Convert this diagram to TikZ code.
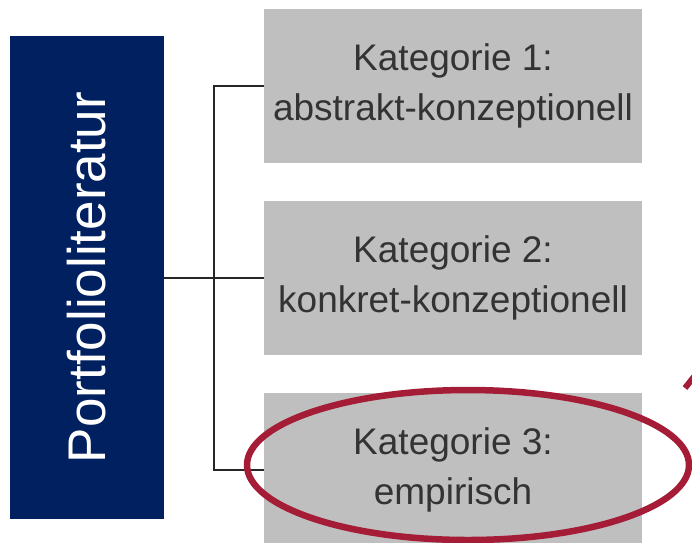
\documentclass[tikz,border=0pt]{standalone}
\usepackage{fontspec}
\setmainfont{Liberation Sans}
\definecolor{uniblue}{HTML}{002060}
\definecolor{catgrey}{HTML}{BFBFBF}
\definecolor{markred}{HTML}{A51C36}
\definecolor{txtgrey}{HTML}{333333}
\begin{document}
\begin{tikzpicture}[x=1pt,y=-1pt,
    catbox/.style={fill=catgrey,text=txtgrey,minimum width=378pt,minimum height=154pt,
        inner sep=0pt,align=center,font=\fontsize{37}{50}\selectfont},
    link/.style={draw=black!85,line width=2pt}]
    \clip (0,0) rectangle (692,542);
    \node [fill=uniblue,text=white,rotate=90,minimum width=483pt,minimum height=154pt,
        inner sep=0pt,font=\fontsize{53}{60}\selectfont] (portfolio) at (87,277.5) {Portfolioliteratur};
    \node [catbox] (kat1) at (453,86) {Kategorie 1:\\abstrakt-konzeptionell};
    \node [catbox] (kat2) at (453,277.5) {Kategorie 2:\\konkret-konzeptionell};
    \node [catbox] (kat3) at (453,470) {Kategorie 3:\\empirisch};
    \coordinate (fork) at (214,277.5);
    \draw [link] (portfolio.south) -- (fork) -- (kat2.west);
    \draw [link] (kat1.west) -| (fork) |- (kat3.west);
    % Markierung
    \draw [markred,line width=6.5pt] (468,465) ellipse [x radius=221,y radius=75];
    \coordinate (arrowfoot) at (685,388);
    \draw [markred,line width=6pt] (arrowfoot) -- ++(12,-15);
\end{tikzpicture}
\end{document}
